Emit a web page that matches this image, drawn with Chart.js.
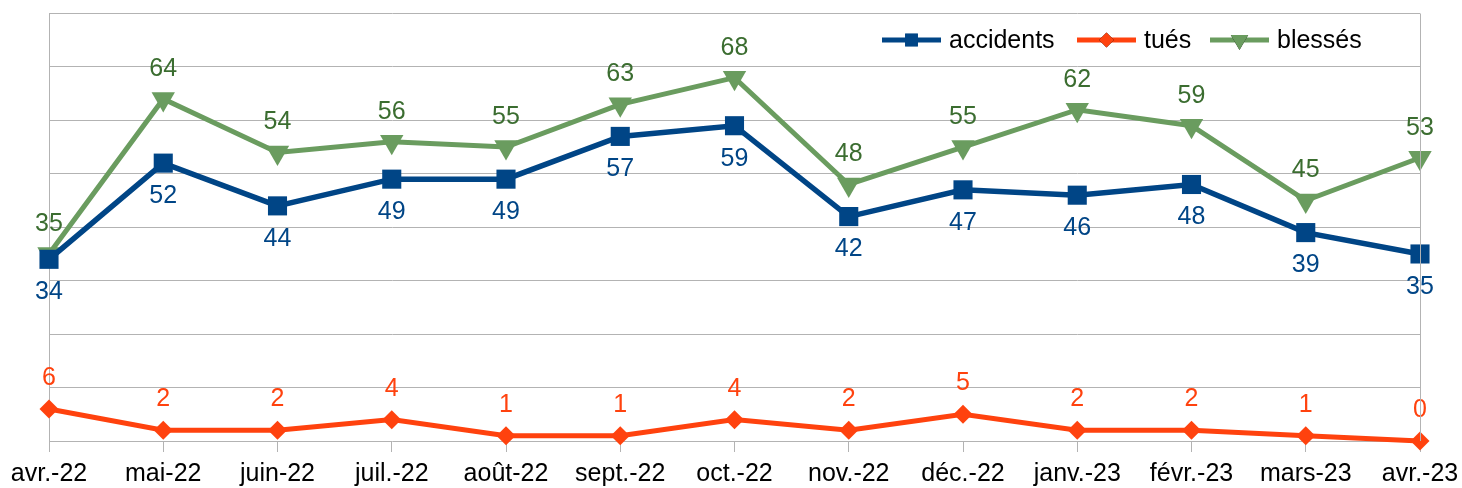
<!DOCTYPE html>
<html>
<head>
<meta charset="utf-8">
<script src="https://cdn.jsdelivr.net/npm/chart.js@4.4.0/dist/chart.umd.min.js"></script>
<style>
    html, body { margin: 0; padding: 0; background: #ffffff; }
    #wrap { width: 1462px; height: 488px; }
</style>
</head>
<body>
<div id="wrap"><canvas id="chart"></canvas></div>
<script>
const months = ['avr.-22', 'mai-22', 'juin-22', 'juil.-22', 'août-22', 'sept.-22', 'oct.-22',
    'nov.-22', 'déc.-22', 'janv.-23', 'févr.-23', 'mars-23', 'avr.-23'];
const accidents = [34, 52, 44, 49, 49, 57, 59, 42, 47, 46, 48, 39, 35];
const tues = [6, 2, 2, 4, 1, 1, 4, 2, 5, 2, 2, 1, 0];
const blesses = [35, 64, 54, 56, 55, 63, 68, 48, 55, 62, 59, 45, 53];

const FONT = '"Liberation Sans", Arial, sans-serif';
const gridColor = '#b3b3b3';

// label colour and where it goes (negative = above the point)
const labelStyle = [
    { color: '#004586', dy: 33 },
    { color: '#ff420e', dy: -31 },
    { color: '#3b6d30', dy: -30 }
];

const valueLabels = {
    id: 'valueLabels',
    afterDatasetsDraw(chart) {
        const ctx = chart.ctx;
        ctx.save();
        ctx.font = '25px ' + FONT;
        ctx.textAlign = 'center';
        ctx.textBaseline = 'middle';
        chart.data.datasets.forEach((ds, i) => {
            const meta = chart.getDatasetMeta(i);
            ctx.fillStyle = labelStyle[i].color;
            meta.data.forEach((pt, j) => {
                ctx.fillText(String(ds.data[j]), pt.x, pt.y + labelStyle[i].dy);
            });
        });
        ctx.restore();
    }
};

const frameAndLegend = {
    id: 'frameAndLegend',
    afterDraw(chart) {
        const ctx = chart.ctx;
        const area = chart.chartArea;
        ctx.save();
        // right border of the plot
        ctx.strokeStyle = gridColor;
        ctx.lineWidth = 1;
        ctx.beginPath();
        ctx.moveTo(Math.round(area.right) + 0.5, area.top);
        ctx.lineTo(Math.round(area.right) + 0.5, area.bottom);
        ctx.stroke();

        // legend
        const items = [
            { text: 'accidents', x: 882, ds: 0, r: 9 },
            { text: 'tués', x: 1077, ds: 1, r: 7.5 },
            { text: 'blessés', x: 1210, ds: 2, r: 10 }
        ];
        const y = 40;
        ctx.font = '25px ' + FONT;
        ctx.textBaseline = 'middle';
        ctx.textAlign = 'left';
        items.forEach(it => {
            const ds = chart.data.datasets[it.ds];
            ctx.strokeStyle = ds.borderColor;
            ctx.lineWidth = 5;
            ctx.beginPath();
            ctx.moveTo(it.x, y);
            ctx.lineTo(it.x + 59, y);
            ctx.stroke();
            Chart.helpers.drawPoint(ctx, {
                pointStyle: ds.pointStyle,
                radius: it.r,
                rotation: ds.pointRotation || 0,
                borderWidth: 0
            }, it.x + 29.5, y);
            ctx.fillStyle = ds.borderColor;
            ctx.fill();
            ctx.fillStyle = '#000000';
            ctx.fillText(it.text, it.x + 67, y + 1);
        });
        ctx.restore();
    }
};

new Chart(document.getElementById('chart'), {
    type: 'line',
    data: {
        labels: months,
        datasets: [
            {
                label: 'accidents',
                data: accidents,
                borderColor: '#004586',
                backgroundColor: '#004586',
                borderWidth: 5.5,
                pointStyle: 'rect',
                pointRadius: 13.5,
                pointBorderWidth: 0,
                tension: 0,
                clip: false
            },
            {
                label: 'tués',
                data: tues,
                borderColor: '#ff420e',
                backgroundColor: '#ff420e',
                borderWidth: 5,
                pointStyle: 'rectRot',
                pointRadius: 9.5,
                pointBorderWidth: 0,
                tension: 0,
                clip: false
            },
            {
                label: 'blessés',
                data: blesses,
                borderColor: '#6a9c5f',
                backgroundColor: '#6a9c5f',
                borderWidth: 5,
                pointStyle: 'triangle',
                pointRotation: 180,
                pointRadius: 13.5,
                pointBorderWidth: 0,
                tension: 0,
                clip: false
            }
        ]
    },
    options: {
        responsive: true,
        maintainAspectRatio: false,
        animation: false,
        layout: { padding: { left: 49, right: 42, top: 12, bottom: 0 } },
        plugins: {
            legend: { display: false },
            tooltip: { enabled: false }
        },
        scales: {
            x: {
                offset: false,
                grid: {
                    display: true,
                    drawOnChartArea: false,
                    color: gridColor,
                    tickLength: 11
                },
                border: { display: false },
                ticks: {
                    color: '#000000',
                    font: { family: FONT, size: 25, lineHeight: 1.5 },
                    padding: 3,
                    maxRotation: 0,
                    autoSkip: false
                },
                afterFit(scale) {
                    scale.height = 47;
                }
            },
            y: {
                min: 0,
                max: 80,
                grid: { color: gridColor, drawTicks: false },
                border: { display: true, color: gridColor },
                ticks: { display: false, stepSize: 10 }
            }
        }
    },
    plugins: [valueLabels, frameAndLegend]
});
</script>
</body>
</html>
